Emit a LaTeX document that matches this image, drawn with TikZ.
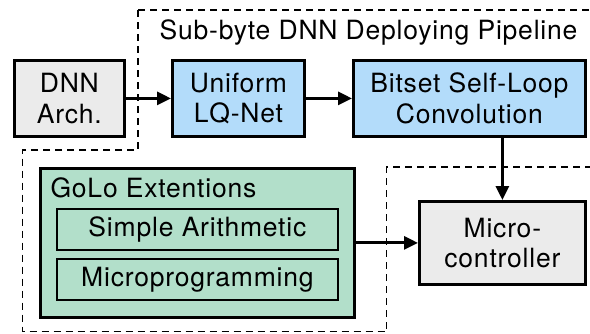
\documentclass[tikz,border=0pt]{standalone}
\usepackage{fontspec}
\setmainfont{TeX Gyre Heros}[LetterSpace=3]
\usetikzlibrary{arrows.meta}
\definecolor{boxgray}{HTML}{EBEBEB}
\definecolor{boxblue}{HTML}{B3DCFA}
\definecolor{boxgreen}{HTML}{B2DFCA}
\tikzset{
  txt/.style={font=\fontsize{26.5}{30.5}\selectfont},
  blk/.style={draw=black, line width=2.8pt, align=center, inner sep=0pt, txt},
  flow/.style={line width=3pt, -{Triangle[length=14pt,width=13pt]}},
  region/.style={line width=1.8pt, dash pattern=on 7pt off 5pt},
}
\begin{document}
\begin{tikzpicture}[x=1pt,y=-1pt]
\useasboundingbox (0,0) rectangle (590,333);
% pipeline / extension regions
\begin{scope}
\clip (0,0) rectangle (590,333);
\draw[region] (138,10) -- (600,10);
\draw[region] (138,10) -- (138,150) -- (22.5,150) -- (22.5,331.5) -- (386.5,331.5) -- (386.5,167) -- (600,167);
\end{scope}
\node[txt, anchor=base] (title) at (368.5,39.5) {Sub-byte DNN Deploying Pipeline};
% top row
\node[blk, fill=boxgray, minimum width=110pt, minimum height=76pt, anchor=north west] (arch) at (13,59) {DNN\\Arch.};
\node[blk, fill=boxblue, minimum width=132pt, minimum height=76pt, anchor=north west] (lq) at (171,59) {Uniform\\LQ-Net};
\node[blk, fill=boxblue, minimum width=232pt, minimum height=76pt, anchor=north west] (bitset) at (352,59) {Bitset Self-Loop\\Convolution};
% extensions group
\node[blk, fill=boxgreen, minimum width=314pt, minimum height=149pt, anchor=north west] (golo) at (39,167) {};
\node[txt, anchor=base west] (gololbl) at (47,197) {GoLo Extentions};
\node[blk, line width=1.8pt, fill=boxgreen, minimum width=281pt, minimum height=41pt, anchor=north west] (arith) at (56,208) {Simple Arithmetic};
\node[blk, line width=1.8pt, fill=boxgreen, minimum width=281pt, minimum height=41pt, anchor=north west] (mprog) at (56,258) {Microprogramming};
% target
\node[blk, fill=boxgray, minimum width=166pt, minimum height=83pt, anchor=north west] (mcu) at (418,200) {Micro-\\controller};
% connectors
\draw[flow] (arch.east) -- (lq.west);
\draw[flow] (lq.east) -- (bitset.west);
\draw[flow] (bitset.south -| mcu.north) -- (mcu.north);
\draw[flow] (golo.east |- mcu.west) -- (mcu.west);
\end{tikzpicture}
\end{document}
